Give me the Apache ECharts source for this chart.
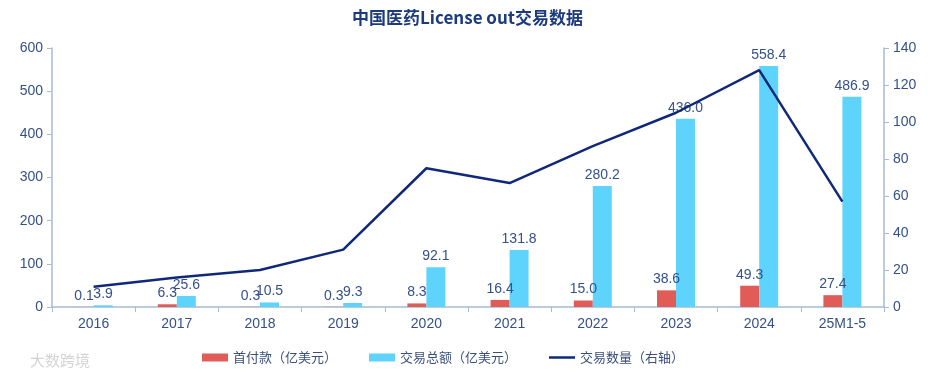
<!DOCTYPE html>
<html>
<head>
<meta charset="utf-8">
<script src="https://cdn.jsdelivr.net/npm/echarts@6/dist/echarts.min.js"></script>
<style>
  html, body { margin: 0; padding: 0; background: #fff; }
  #chart { width: 935px; height: 375px; }
</style>
</head>
<body>
<div id="chart"></div>
<script>
const categories = ['2016', '2017', '2018', '2019', '2020', '2021', '2022', '2023', '2024', '25M1-5'];
const upfront = [0.1, 6.3, 0.3, 0.3, 8.3, 16.4, 15.0, 38.6, 49.3, 27.4];
const totalValue = [3.9, 25.6, 10.5, 9.3, 92.1, 131.8, 280.2, 436.0, 558.4, 486.9];
const dealCount = [11, 16, 20, 31, 75, 67, 87, 105, 128, 57];

const axisColor = '#a8bad4';
const textColor = '#34508a';
const fontFamily = '"Liberation Sans", Arial, "Noto Sans CJK SC", sans-serif';

const chart = echarts.init(document.getElementById('chart'));

chart.setOption({
  animation: false,
  textStyle: { fontFamily: fontFamily },
  title: {
    text: '中国医药License out交易数据',
    left: 'center',
    top: 4,
    textStyle: {
      color: '#1c3a7e',
      fontSize: 17,
      fontWeight: 'bold',
      fontFamily: '"Noto Sans CJK SC", sans-serif'
    }
  },
  legend: {
    left: 197,
    bottom: 6,
    itemWidth: 26,
    itemHeight: 8,
    itemGap: 32,
    textStyle: { color: '#3a4f7a', fontSize: 13, fontFamily: '"Noto Sans CJK SC", sans-serif' },
    data: [
      { name: '首付款（亿美元）', icon: 'rect' },
      { name: '交易总额（亿美元）', icon: 'rect' },
      { name: '交易数量（右轴）', icon: 'path://M0,0 L26,0 L26,2.5 L0,2.5 Z' }
    ]
  },
  grid: { left: 52, right: 51, top: 48, bottom: 68 },
  xAxis: {
    type: 'category',
    data: categories,
    axisLine: { lineStyle: { color: axisColor, width: 1.5 } },
    axisTick: { show: true, length: 5, lineStyle: { color: axisColor } },
    axisLabel: { color: textColor, fontSize: 14, margin: 10 }
  },
  yAxis: [
    {
      type: 'value',
      min: 0,
      max: 600,
      interval: 100,
      axisLine: { show: true, lineStyle: { color: axisColor, width: 1.5 } },
      axisTick: { show: true, length: 5, lineStyle: { color: axisColor } },
      axisLabel: { color: textColor, fontSize: 14, margin: 9 },
      splitLine: { show: false }
    },
    {
      type: 'value',
      min: 0,
      max: 140,
      interval: 20,
      position: 'right',
      axisLine: { show: true, lineStyle: { color: axisColor, width: 1.5 } },
      axisTick: { show: true, length: 5, lineStyle: { color: axisColor } },
      axisLabel: { color: textColor, fontSize: 14, margin: 9 },
      splitLine: { show: false }
    }
  ],
  series: [
    {
      name: '首付款（亿美元）',
      type: 'bar',
      data: upfront,
      barWidth: 19,
      barGap: '0%',
      itemStyle: { color: '#e15b57' },
      label: {
        show: true,
        position: 'top',
        distance: 4,
        color: textColor,
        fontSize: 14,
        formatter: p => p.value.toFixed(1)
      }
    },
    {
      name: '交易总额（亿美元）',
      type: 'bar',
      data: totalValue,
      barWidth: 19,
      barGap: '0%',
      itemStyle: { color: '#5ed3fb' },
      label: {
        show: true,
        position: 'top',
        distance: 4,
        color: textColor,
        fontSize: 14,
        formatter: p => p.value.toFixed(1)
      }
    },
    {
      name: '交易数量（右轴）',
      type: 'line',
      yAxisIndex: 1,
      data: dealCount,
      symbol: 'none',
      lineStyle: { color: '#10287a', width: 2.5 },
      itemStyle: { color: '#10287a' },
      z: 5
    }
  ],
  graphic: [
    {
      type: 'text',
      left: 30,
      bottom: 7,
      style: {
        text: '大数跨境',
        fill: 'rgba(160,160,160,0.45)',
        fontSize: 15,
        fontFamily: '"Noto Sans CJK SC", sans-serif'
      }
    }
  ]
});
</script>
</body>
</html>
